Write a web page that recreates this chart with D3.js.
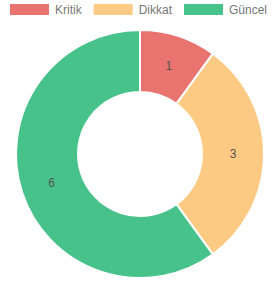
<!DOCTYPE html>
<html>
<head>
<meta charset="utf-8">
<script src="https://cdn.jsdelivr.net/npm/d3@7"></script>
<style>
  body { margin: 0; background: #fff; }
  svg { display: block; font-family: "Liberation Sans", Arial, sans-serif; }
</style>
</head>
<body>
<div id="chart"></div>
<script>
const labels = ['Kritik', 'Dikkat', 'Güncel'];
const values = [1, 3, 6];
const colors = ['#e8736f', '#fdca84', '#48c28b'];

const width = 275, height = 284;
const cx = 140, cy = 154;
const outerR = 124, innerR = 62;

const svg = d3.select('#chart')
    .append('svg')
    .attr('width', width)
    .attr('height', height);

// legend
const legend = svg.append('g').attr('class', 'legend');
const items = legend.selectAll('g')
    .data(labels)
    .enter()
    .append('g');

items.append('rect')
    .attr('width', 39)
    .attr('height', 11)
    .attr('y', 4)
    .attr('fill', (d, i) => colors[i]);

items.append('text')
    .attr('x', 45)
    .attr('y', 14)
    .attr('font-size', 12)
    .attr('fill', '#777')
    .text(d => d);

// lay items out in a centered row
let widths = [];
items.each(function () {
    widths.push(45 + d3.select(this).select('text').node().getComputedTextLength());
});
const gap = 12;
const total = d3.sum(widths) + gap * (widths.length - 1);
let x0 = (width - total) / 2 + 1;
items.attr('transform', (d, i) => {
    const t = `translate(${x0},0)`;
    x0 += widths[i] + gap;
    return t;
});

// doughnut
const pie = d3.pie().sort(null).value(d => d);
const arc = d3.arc().innerRadius(innerR).outerRadius(outerR);
const labelArc = d3.arc().innerRadius(93).outerRadius(93);

const g = svg.append('g').attr('transform', `translate(${cx},${cy})`);
const arcs = pie(values);

g.selectAll('path')
    .data(arcs)
    .enter()
    .append('path')
    .attr('d', arc)
    .attr('fill', (d, i) => colors[i])
    .attr('stroke', '#fff')
    .attr('stroke-width', 2);

g.selectAll('text')
    .data(arcs)
    .enter()
    .append('text')
    .attr('transform', d => `translate(${labelArc.centroid(d)})`)
    .attr('text-anchor', 'middle')
    .attr('dy', '0.35em')
    .attr('font-size', 12)
    .attr('fill', '#555')
    .text(d => d.data);
</script>
</body>
</html>
